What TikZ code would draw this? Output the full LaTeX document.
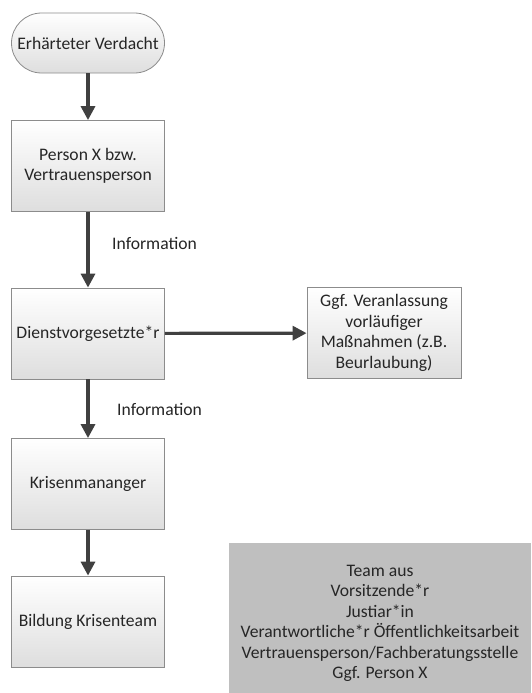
\documentclass[tikz,border=0pt]{standalone}
\usepackage{fontspec}
\setmainfont{Carlito}
\usetikzlibrary{arrows.meta}
\begin{document}
\begin{tikzpicture}[x=1pt,y=-1pt,
  every node/.style={font=\fontsize{17.6}{20.5}\selectfont, text=black!85},
  procbox/.style={draw=black!45, line width=0.8pt, top color=white, bottom color=black!13, minimum width=153pt, minimum height=91pt, align=center, inner sep=2pt},
  flow/.style={draw=black!75, line width=3.2pt, -{Triangle[length=14pt,width=14pt]}},
  lbl/.style={anchor=west, inner sep=0pt},
  teambox/.style={fill=black!25, draw=none, minimum width=302pt, minimum height=150pt, inner sep=0pt},
  teamtxt/.style={align=center, inner sep=0pt}]
\useasboundingbox (0,0) rectangle (531,693);
\fill[white] (0,0) rectangle (531,693);

\node[procbox, rounded corners=30pt, minimum height=60pt, inner sep=0pt] (start) at (88,43) {Erhärteter Verdacht};
\node[procbox] (person) at (88,166) {Person X bzw.\\Vertrauensperson};
\node[procbox] (dienst) at (88,333.5) {Dienstvorgesetzte*r};
\node[procbox, minimum width=154pt] (massn) at (384,333) {Ggf. Veranlassung\\vorläufiger\\Maßnahmen (z.B.\\Beurlaubung)};
\node[procbox] (krise) at (88,484) {Krisenmananger};
\node[procbox] (team) at (88,621.5) {Bildung Krisenteam};

\node[teambox] (teamgrey) at (380,618) {};
\node[teamtxt] (teamtext) at (380,623.5) {Team aus\\Vorsitzende*r\\Justiar*in\\Verantwortliche*r Öffentlichkeitsarbeit\\Vertrauensperson/Fachberatungsstelle\\Ggf. Person X};

\node[lbl] (info1) at (112,243) {Information};
\node[lbl] (info2) at (117,409) {Information};

\draw[flow] (start) -- (person);
\draw[flow] (person) -- (dienst);
\draw[flow] (dienst) -- (massn);
\draw[flow] (dienst) -- (krise);
\draw[flow] (krise) -- (team);
\end{tikzpicture}
\end{document}
